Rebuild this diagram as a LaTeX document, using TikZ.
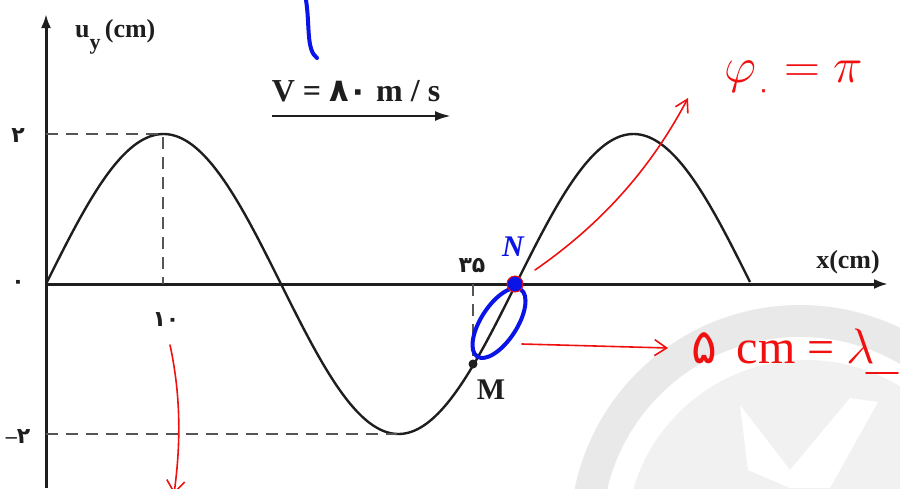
\documentclass[tikz,border=0pt]{standalone}
\usepackage{fontspec}
\setmainfont{Liberation Serif}
\newfontfamily\persianfont[Script=Arabic]{DejaVu Sans}
\usetikzlibrary{arrows.meta,calc,positioning}
\definecolor{ink}{HTML}{1E1E1E}
\definecolor{guidegray}{HTML}{555555}
\definecolor{markred}{HTML}{F01010}
\definecolor{markblue}{HTML}{0A14E6}
\definecolor{wmring}{HTML}{E9E9E9}
\definecolor{wmdisc}{HTML}{F1F1F1}
\tikzset{
  axis/.style={ink,line width=1.5pt,-{Latex[length=7pt,width=5pt]}},
  guide/.style={guidegray,line width=1.1pt,dash pattern=on 6pt off 4pt},
  wave/.style={ink,line width=1.2pt},
  lbl/.style={ink,font=\bfseries\fontsize{13}{15}\selectfont},
  num/.style={ink,font=\persianfont\bfseries\fontsize{11}{13}\selectfont},
  redpen/.style={markred,line width=0.8pt,line cap=round},
  bluepen/.style={markblue,line width=2pt,line cap=round},
}

\begin{document}
\begin{tikzpicture}[x=0.5pt,y=-0.5pt]
\useasboundingbox (0,0) rectangle (900,488);
\clip (0,0) rectangle (900,488);
% filigrana
\fill[wmring] (800,535) circle (230);
\fill[white] (800,535) circle (198);
\fill[wmdisc] (806,540) circle (180);
\fill[white] (740,405) -- (748,470) -- (790,488) -- (830,488) -- (878,402) -- (850,398) -- (790,470) -- cycle;
% assi
\coordinate (O) at (46,284);
\coordinate (ytop) at (46,14);
\coordinate (ybot) at (46,488);
\coordinate (xend) at (888,284);
\draw[axis] (ybot) -- (ytop);
\draw[axis] (O) -- (xend);
\node[lbl,anchor=base west] (uy) at (68,37) {u\raisebox{-6pt}{\fontsize{11}{13}\selectfont y}\,(cm)};
\node[lbl] (xlab) at (848,262) {x(cm)};
\node[num] (n0) at (18,284) {۰};
\node[num] (n2) at (18,136) {۲};
\node[num] (nm2) at (18,437) {\hbox{\rmfamily\bfseries –}\hbox{۲}};
\node[num] (n10) at (166,320) {۱۰};
\node[num] (n35) at (472,266) {۳۵};
% onda
\draw[wave] plot[domain=46:750,samples=141,smooth] (\x,{284-150*sin(0.76596*(\x-46))});
\coordinate (top) at (163,134);
\coordinate (bot) at (397,434);
\coordinate (M) at (473,364);
\coordinate (N) at (515,284);
\draw[guide] (O |- top) -- (top) -- (top |- O);
\draw[guide] (O |- bot) -- (bot);
\draw[guide] (M |- O) -- (M);
\fill[ink] (M) circle (4.5);
\node[lbl,font=\bfseries\fontsize{15}{17}\selectfont] (Mlab) at (491,390) {M};
% velocita
\node[lbl,font=\bfseries\fontsize{16}{18}\selectfont] (vel) at (356,91) {V = {\persianfont ۸۰} m / s};
\coordinate (va) at (272,116);
\coordinate (vb) at (451,116);
\draw[ink,line width=1.3pt,-{Latex[length=8pt,width=5pt]}] (va) -- (vb);
% note a mano
\coordinate (b1) at (306,0);
\coordinate (b2) at (317,58);
\draw[bluepen] (b1) .. controls (310,25) and (306,50) .. (b2);
\node[markblue,font=\bfseries\itshape\fontsize{15}{17}\selectfont] (Nlab) at (513,247) {N};
\draw[bluepen] (499,323) [rotate around={57:(499,323)}] ellipse (40 and 18);
\fill[markblue,draw=markred,line width=0.5pt] (N) circle (8);
\coordinate (r1) at (535,270);
\coordinate (r2) at (688,98);
\draw[redpen,-{Straight Barb[length=6pt,width=7pt]}] (r1) .. controls (600,225) and (650,170) .. (r2);
\node[markred,font=\fontsize{25}{28}\selectfont] (phi) at (794,80) {$\varphi$\raisebox{-8pt}{\persianfont\fontsize{13}{13}\selectfont ۰}\;$=\pi$};
\coordinate (r3) at (522,344);
\coordinate (r4) at (668,348);
\draw[redpen,-{Straight Barb[length=6pt,width=8pt]}] (r3) -- (r4);
\node[markred,font=\fontsize{24}{28}\selectfont,anchor=west] (dist) at (684,346) {{\persianfont ۵}\, cm = $\lambda$};
\coordinate (u1) at (866,373);
\coordinate (u2) at (898,373);
\draw[redpen] (u1) -- (u2);
\coordinate (r5) at (170,345);
\coordinate (r6) at (174,494);
\draw[redpen,-{Straight Barb[length=6pt,width=9pt]}] (r5) .. controls (182,400) and (180,450) .. (r6);
\end{tikzpicture}
\end{document}
